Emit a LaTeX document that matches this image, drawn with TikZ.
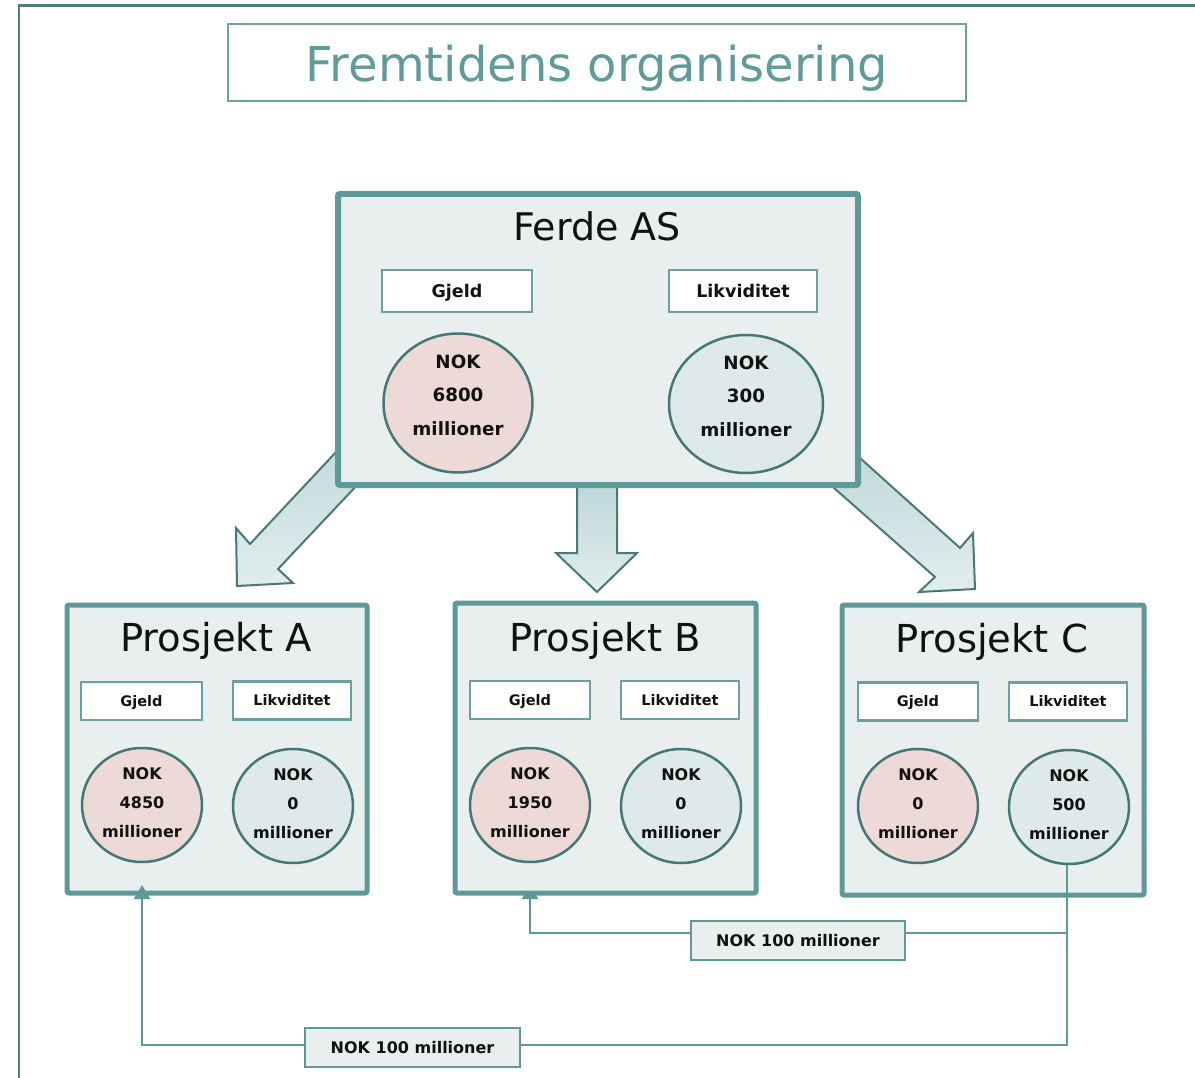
\documentclass[tikz,border=0pt]{standalone}
\usepackage{fontspec}
\setmainfont{DejaVu Sans}
\usetikzlibrary{shapes.geometric,arrows.meta,calc}

\definecolor{frameline}{HTML}{4F7C7C}
\definecolor{titlecol}{HTML}{5F9B9B}
\definecolor{titleline}{HTML}{6AA3A3}
\definecolor{boxline}{HTML}{5E9898}
\definecolor{boxfill}{HTML}{E9EFEF}
\definecolor{tagline}{HTML}{6AA0A0}
\definecolor{ringline}{HTML}{467676}
\definecolor{debtfill}{HTML}{EDD9D6}
\definecolor{cashfill}{HTML}{DEEAEA}
\definecolor{arrowline}{HTML}{4A7878}
\definecolor{arA}{HTML}{B9D5D6}
\definecolor{arB}{HTML}{E2EDED}
\definecolor{connline}{HTML}{5F9A9A}
\definecolor{ink}{HTML}{111111}

\newcommand\dgTitle{\fontsize{48}{56}\selectfont}
\newcommand\dgHeadF{\fontsize{38}{44}\selectfont}
\newcommand\dgHead{\fontsize{38.5}{44}\selectfont}
\newcommand\dgTagBig{\fontsize{17.5}{21}\selectfont\bfseries}
\newcommand\dgTagSmall{\fontsize{14.5}{17}\selectfont\bfseries}
\newcommand\dgRingBig{\fontsize{18.3}{33.5}\selectfont\bfseries}
\newcommand\dgRingSmall{\fontsize{16}{29}\selectfont\bfseries}
\newcommand\dgAmount{\fontsize{16}{18}\selectfont\bfseries}

\tikzset{
  orgbox/.style={draw=boxline, line width=5pt, fill=boxfill, rounded corners=2pt, inner sep=0pt},
  headtext/.style={anchor=base, text=ink, font=\dgHead, inner sep=0pt},
  tagbox/.style={draw=tagline, line width=2.3pt, fill=white, inner sep=0pt, text=ink},
  tagbig/.style={tagbox, font=\dgTagBig, text height=14.9pt, text depth=2.3pt},
  tagsmall/.style={tagbox, font=\dgTagSmall, text height=12.3pt, text depth=1.9pt},
  ring/.style={ellipse, draw=ringline, line width=2.5pt, inner sep=0pt},
  debt/.style={ring, fill=debtfill},
  cash/.style={ring, fill=cashfill},
  ringtext/.style={align=center, text=ink, inner sep=0pt},
  bigarrow/.style={draw=arrowline, line width=2pt, top color=arA, bottom color=arB, line join=miter},
  conn/.style={draw=connline, line width=2.3pt},
  conntip/.style={conn, -{Triangle[width=16pt,length=14pt]}, color=connline},
  amount/.style={draw=connline, line width=2.3pt, fill=boxfill, inner sep=0pt, text=ink, font=\dgAmount,
                 text height=13.6pt, text depth=2.1pt}
}

\begin{document}
\begin{tikzpicture}[x=1pt,y=-1pt]
\useasboundingbox (0,0) rectangle (1195,1078);

% outer frame
\draw[frameline, line width=2.5pt] (19,1085) -- (19,5.5) -- (1200,5.5);

% title
\node[draw=titleline, line width=1.6pt, minimum width=738pt, minimum height=77pt, inner sep=0pt] (titlebox) at (597,62.5) {};
\node[anchor=base, text=titlecol, font=\dgTitle, inner sep=0pt] (title) at (597,82) {Fremtidens organisering};

% block arrows (behind the boxes)
\draw[bigarrow] (380,405) -- (250,544) -- (236,528) -- (237,586) -- (293,583) -- (278,569) -- (408,431) -- cycle;
\draw[bigarrow] (577,470) -- (577,553) -- (556,553) -- (597,592) -- (637,553) -- (617,553) -- (617,470) -- cycle;
\draw[bigarrow] (820,422) -- (960,548) -- (973,533) -- (975,589) -- (919,592) -- (935,577) -- (800,458) -- cycle;

% coordinates of the transfer lines
\coordinate (c1) at (1067,1045);
\coordinate (c2) at (142,1045);
\coordinate (c3) at (1067,933);
\coordinate (c4) at (530,933);

% Ferde AS
\node[orgbox, line width=6pt, minimum width=520pt, minimum height=291pt] (F) at (598,339.5) {};
\node[headtext, font=\dgHeadF] (Ft) at (597,241) {Ferde AS};
\node[tagbig, minimum width=150pt, minimum height=42pt] (fG) at (457,291) {Gjeld};
\node[tagbig, minimum width=148pt, minimum height=42pt] (fL) at (743,291) {Likviditet};
\node[debt, minimum width=149pt, minimum height=139pt] (fD) at (458,403) {};
\node[ringtext, font=\dgRingBig] (fDt) at ($(fD.center)+(0,-8)$) {NOK\\6800\\millioner};
\node[cash, minimum width=154pt, minimum height=138pt] (fK) at (746,404) {};
\node[ringtext, font=\dgRingBig] (fKt) at ($(fK.center)+(0,-8)$) {NOK\\300\\millioner};

% connector into Prosjekt B (drawn behind its box)
\node[orgbox, draw=none, fill=none, minimum width=301pt, minimum height=290pt] (Bghost) at (605.5,748) {};
\draw[conntip] (c3) -- (c4) -- ($(Bghost.south -| c4)+(0,-10.5)$);

% Prosjekt A
\node[orgbox, minimum width=300pt, minimum height=288pt] (A) at (217,749) {};
\node[headtext] (At) at (216,651) {Prosjekt A};
\node[tagsmall, minimum width=121pt, minimum height=38pt] (aG) at (141.5,701) {Gjeld};
\node[tagsmall, minimum width=118pt, minimum height=38pt] (aL) at (292,700.5) {Likviditet};
\node[debt, minimum width=120pt, minimum height=114pt] (aD) at (142,805) {};
\node[ringtext, font=\dgRingSmall] (aDt) at ($(aD.center)+(0,-2)$) {NOK\\4850\\millioner};
\node[cash, minimum width=120pt, minimum height=114pt] (aK) at (293,806) {};
\node[ringtext, font=\dgRingSmall] (aKt) at ($(aK.center)+(0,-2)$) {NOK\\0\\millioner};

% Prosjekt B
\node[orgbox, minimum width=301pt, minimum height=290pt] (B) at (605.5,748) {};
\node[headtext] (Bt) at (605,651) {Prosjekt B};
\node[tagsmall, minimum width=120pt, minimum height=38pt] (bG) at (530,700) {Gjeld};
\node[tagsmall, minimum width=118pt, minimum height=38pt] (bL) at (680,700) {Likviditet};
\node[debt, minimum width=120pt, minimum height=114pt] (bD) at (530,805) {};
\node[ringtext, font=\dgRingSmall] (bDt) at ($(bD.center)+(0,-2)$) {NOK\\1950\\millioner};
\node[cash, minimum width=120pt, minimum height=114pt] (bK) at (681,806) {};
\node[ringtext, font=\dgRingSmall] (bKt) at ($(bK.center)+(0,-2)$) {NOK\\0\\millioner};

% Prosjekt C
\node[orgbox, minimum width=302pt, minimum height=290pt] (C) at (993,750) {};
\node[headtext] (Ct) at (992,652) {Prosjekt C};
\node[tagsmall, minimum width=120pt, minimum height=38pt] (cG) at (918,701.5) {Gjeld};
\node[tagsmall, minimum width=118pt, minimum height=38pt] (cL) at (1068,701.5) {Likviditet};
\node[debt, minimum width=120pt, minimum height=114pt] (cD) at (918,806) {};
\node[ringtext, font=\dgRingSmall] (cDt) at ($(cD.center)+(0,-2)$) {NOK\\0\\millioner};
\node[cash, minimum width=120pt, minimum height=114pt] (cK) at (1069,807) {};
\node[ringtext, font=\dgRingSmall] (cKt) at ($(cK.center)+(0,-2)$) {NOK\\500\\millioner};

% transfer from C to A
\draw[conntip] (cK.south -| c1) -- (c1) -- (c2) -- ($(A.south -| c2)+(0,-10.5)$);

% amount labels
\node[amount, minimum width=215pt, minimum height=39pt] (lab1) at (412.5,1047.5) {NOK 100 millioner};
\node[amount, minimum width=214pt, minimum height=39pt] (lab2) at (798,940.5) {NOK 100 millioner};

\end{tikzpicture}
\end{document}
